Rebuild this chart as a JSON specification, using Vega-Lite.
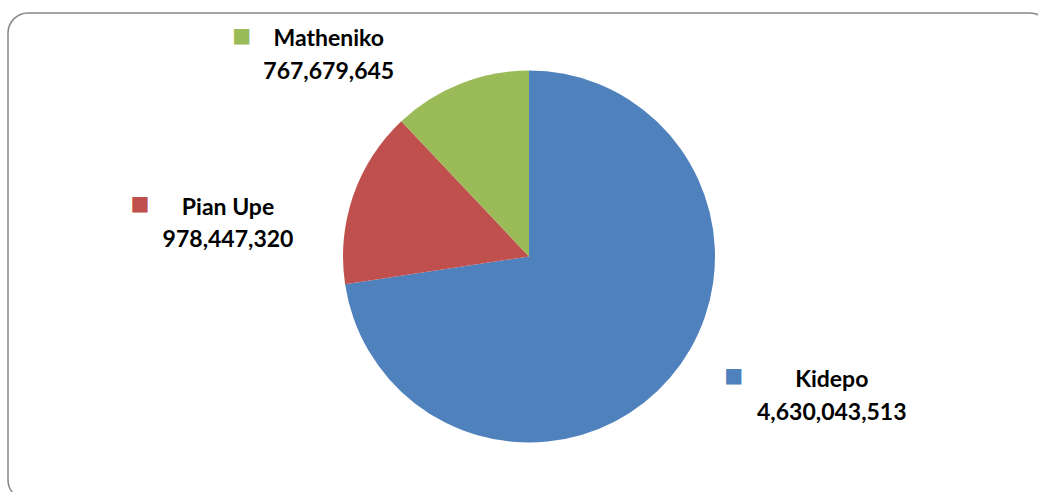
{
  "$schema": "https://vega.github.io/schema/vega-lite/v6.json",
  "autosize": "none",
  "width": 1042,
  "height": 487,
  "padding": {"left": 8, "top": 13, "right": -12, "bottom": -8},
  "background": "white",
  "config": {
    "view": {"stroke": null},
    "text": {"font": "Lato", "fontWeight": "bold", "fontSize": 23, "color": "black", "align": "center", "baseline": "middle"}
  },
  "data": {
    "values": [
      {"park": "Kidepo", "value": 4630043513},
      {"park": "Pian Upe", "value": 978447320},
      {"park": "Matheniko", "value": 767679645}
    ]
  },
  "layer": [
    {
      "data": {"values": [{"frame": "border"}]},
      "mark": {"type": "rect", "fill": null, "stroke": "#868686", "strokeWidth": 1.5, "cornerRadius": 20},
      "encoding": {}
    },
    {
      "encoding": {
        "theta": {"field": "value", "type": "quantitative", "stack": true},
        "order": {"field": "value", "type": "quantitative", "sort": "descending"}
      },
      "layer": [
        {
          "mark": {"type": "arc", "outerRadius": 186},
          "encoding": {
            "color": {"field": "park", "type": "nominal", "scale": {"domain": ["Kidepo", "Pian Upe", "Matheniko"], "range": ["#4F81BD", "#C0504D", "#9BBB59"]}, "legend": null}
          }
        },
        {
          "mark": {"type": "text", "radius": 220, "dx": 136, "dy": -20},
          "encoding": {"text": {"condition": {"test": "datum.park === 'Kidepo'", "field": "park", "type": "nominal"}, "value": ""}}
        },
        {
          "mark": {"type": "text", "radius": 220, "dx": 136, "dy": 13},
          "encoding": {"text": {"condition": {"test": "datum.park === 'Kidepo'", "field": "value", "type": "quantitative", "format": ","}, "value": ""}}
        },
        {
          "mark": {"type": "text", "radius": 220, "dx": 38, "dy": -24, "font": "DejaVu Sans", "fontWeight": "normal", "fontSize": 20},
          "encoding": {
            "text": {"condition": {"test": "datum.park === 'Kidepo'", "value": "■"}, "value": ""},
            "color": {"field": "park", "type": "nominal", "legend": null}
          }
        },
        {
          "mark": {"type": "text", "radius": 220, "dx": -93, "dy": 23},
          "encoding": {"text": {"condition": {"test": "datum.park === 'Pian Upe'", "field": "park", "type": "nominal"}, "value": ""}}
        },
        {
          "mark": {"type": "text", "radius": 220, "dx": -93, "dy": 55},
          "encoding": {"text": {"condition": {"test": "datum.park === 'Pian Upe'", "field": "value", "type": "quantitative", "format": ","}, "value": ""}}
        },
        {
          "mark": {"type": "text", "radius": 220, "dx": -181, "dy": 19, "font": "DejaVu Sans", "fontWeight": "normal", "fontSize": 20},
          "encoding": {
            "text": {"condition": {"test": "datum.park === 'Pian Upe'", "value": "■"}, "value": ""},
            "color": {"field": "park", "type": "nominal", "legend": null}
          }
        },
        {
          "mark": {"type": "text", "radius": 220, "dx": -119, "dy": -13},
          "encoding": {"text": {"condition": {"test": "datum.park === 'Matheniko'", "field": "park", "type": "nominal"}, "value": ""}}
        },
        {
          "mark": {"type": "text", "radius": 220, "dx": -119, "dy": 20},
          "encoding": {"text": {"condition": {"test": "datum.park === 'Matheniko'", "field": "value", "type": "quantitative", "format": ","}, "value": ""}}
        },
        {
          "mark": {"type": "text", "radius": 220, "dx": -206, "dy": -16, "font": "DejaVu Sans", "fontWeight": "normal", "fontSize": 20},
          "encoding": {
            "text": {"condition": {"test": "datum.park === 'Matheniko'", "value": "■"}, "value": ""},
            "color": {"field": "park", "type": "nominal", "legend": null}
          }
        }
      ]
    }
  ]
}
